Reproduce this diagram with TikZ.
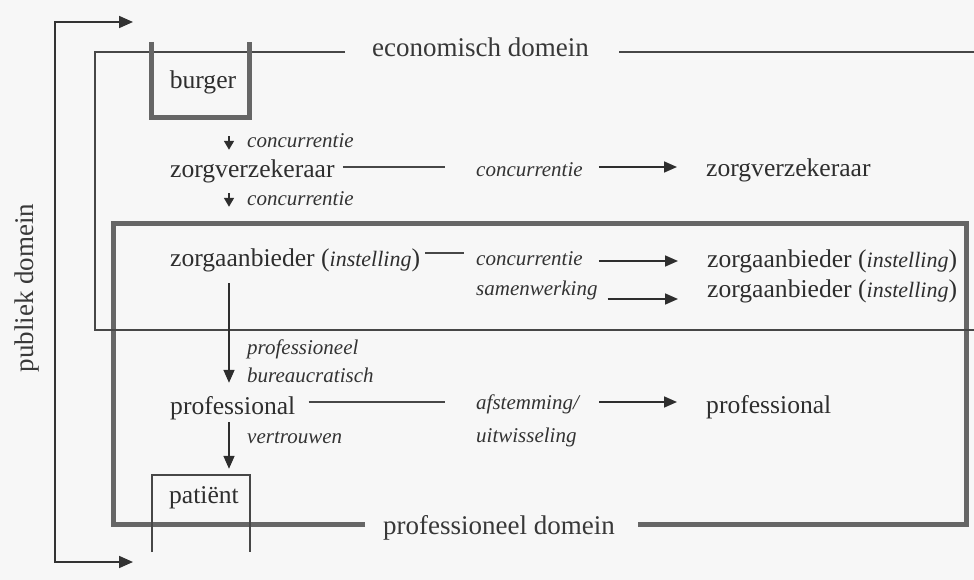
\documentclass[tikz,border=0pt]{standalone}
\usepackage{fontspec}
\setmainfont{Liberation Serif}
\usetikzlibrary{arrows.meta,calc}
\begin{document}
\begin{tikzpicture}[x=1pt,y=-1pt,
  main/.style={inner sep=0pt, anchor=west, font=\fontsize{25.6pt}{30pt}\selectfont, text=black!82, text height=17.5pt, text depth=5.5pt},
  lab/.style={inner sep=0pt, anchor=west, font=\fontsize{21pt}{24pt}\selectfont\itshape, text=black!80, text height=14pt, text depth=4.5pt},
  dom/.style={inner sep=0pt, font=\fontsize{27pt}{32pt}\selectfont, text=black!78, text height=18.5pt, text depth=6pt},
  thinln/.style={line width=1.6pt, draw=black!72},
  thickln/.style={line width=5pt, draw=black!60},
  arr/.style={thinln, draw=black!82, -{Triangle[length=13pt,width=11pt]}},
  shortarr/.style={thinln, draw=black!82, -{Triangle[length=9pt,width=10pt]}},
  bigarr/.style={line width=1.7pt, draw=black!80, {Triangle[length=14pt,width=12pt]}-{Triangle[length=14pt,width=12pt]}},
  boxshape/.style={inner sep=0pt, draw=none}
]
\useasboundingbox (0,0) rectangle (974,580);
\fill[black!3] (0,0) rectangle (974,580);

\newcommand{\inst}{{\fontsize{22pt}{26pt}\selectfont\itshape instelling}}

% main nodes
\node[main] (zv1) at (170,172) {zorgverzekeraar};
\node[main] (zv2) at (706,171) {zorgverzekeraar};
\node[main] (za1) at (170,260) {zorgaanbieder (\inst)};
\node[main] (za2) at (707,261) {zorgaanbieder (\inst)};
\node[main] (za3) at (707,291) {zorgaanbieder (\inst)};
\node[main] (pr1) at (170,408) {professional};
\node[main] (pr2) at (706,407) {professional};
\node[main, anchor=center] (burger) at (203,83) {burger};
\node[main, anchor=center] (patient) at (204,497) {patiënt};
\node[boxshape, minimum width=97pt, minimum height=75pt] (burgerbox) at (200.5,79.5) {};
\node[boxshape, minimum width=98pt, minimum height=77pt] (patbox) at (201,513.5) {};

% italic labels
\node[lab] (c1) at (247,143) {concurrentie};
\node[lab] (c2) at (247,201) {concurrentie};
\node[lab] (cm1) at (476,172) {concurrentie};
\node[lab] (cm2) at (476,261) {concurrentie};
\node[lab] (sw) at (476,291) {samenwerking};
\node[lab] (pf) at (247,350) {professioneel};
\node[lab] (bc) at (247,378) {bureaucratisch};
\node[lab] (af) at (476,405) {afstemming/};
\node[lab] (uw) at (476,438) {uitwisseling};
\node[lab] (vt) at (247,439) {vertrouwen};

% domain labels
\node[dom, anchor=west] (econ) at (372,50) {economisch domein};
\node[dom, anchor=west] (profdom) at (383,528) {professioneel domein};
\node[dom, rotate=90] (publiek) at (27,288) {publiek domein};

% coordinates
\coordinate (colx) at (229,0);
\coordinate (eTL) at (95,52);
\coordinate (eBL) at (95,330);
\coordinate (eBR) at (974,330);
\coordinate (eTR) at (974,52);
\coordinate (pBL) at (113,524);
\coordinate (pTL) at (113,223);
\coordinate (pTR) at (966,223);
\coordinate (pBR) at (966,524);
\coordinate (oTip) at (133,22);
\coordinate (oTL) at (55,22);
\coordinate (oBL) at (55,562);
\coordinate (oTipB) at (133,562);

% professional domain (thick)
\draw[thickln] ($(profdom.west)+(-18,-4)$) -- (pBL) -- (pTL) -- (pTR) -- (pBR) -- ($(profdom.east)+(23,-4)$);

% economic domain (thin)
\draw[thinln] ($(econ.west)+(-27,2)$) -- (eTL) -- (eBL) -- (eBR);
\draw[thinln] ($(econ.east)+(30,2)$) -- (eTR);

% public domain bracket
\draw[bigarr] (oTip) -- (oTL) -- (oBL) -- (oTipB);

% burger and patient boxes
\draw[thickln] (burgerbox.north west) -- (burgerbox.south west) -- (burgerbox.south east) -- (burgerbox.north east);
\draw[thinln] (patbox.south west) -- (patbox.north west) -- (patbox.north east) -- (patbox.south east);

% vertical arrows
\draw[shortarr, shorten <=19pt, shorten >=10.5pt] (burgerbox.south -| colx) -- (zv1.north -| colx);
\draw[shortarr, shorten <=9.5pt, shorten >=41.5pt] (zv1.south -| colx) -- (za1.north -| colx);
\draw[arr, shorten <=11.5pt, shorten >=13.5pt] (za1.south -| colx) -- (pr1.north -| colx);
\draw[arr, shorten <=2.5pt, shorten >=6pt] (pr1.south -| colx) -- (patbox.north -| colx);

% horizontal connectors
\draw[thinln] ($(zv1.east)+(8,-5)$) -- ($(cm1.west)+(-31,-5)$);
\draw[arr] ($(cm1.east)+(16,-5)$) -- ($(zv2.west)+(-29,-4)$);
\draw[thinln] ($(za1.east)+(5,-7)$) -- ($(cm2.west)+(-12,-8)$);
\draw[arr] ($(cm2.east)+(16,0)$) -- ($(za2.west)+(-29,0)$);
\draw[arr] ($(sw.east)+(10,8)$) -- ($(za3.west)+(-29,8)$);
\draw[thinln] ($(pr1.east)+(13,-6)$) -- ($(af.west)+(-31,-3)$);
\draw[arr] ($(af.east)+(20,-3)$) -- ($(pr2.west)+(-29,-5)$);
\end{tikzpicture}
\end{document}
